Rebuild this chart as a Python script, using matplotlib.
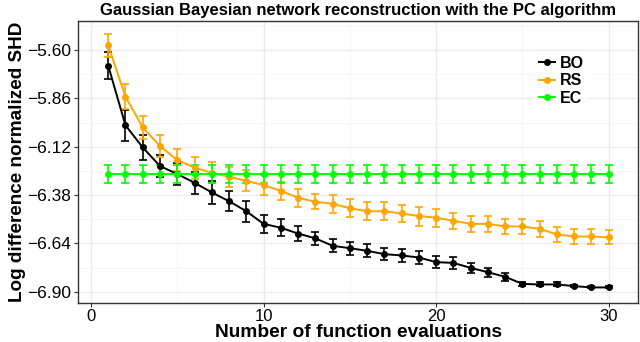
import numpy as np
import matplotlib
matplotlib.use("Agg")
import matplotlib.pyplot as plt
from matplotlib.ticker import FixedLocator, FuncFormatter

plt.rcParams['font.family'] = ['Liberation Sans', 'DejaVu Sans']

evals = list(range(1, 31))

bo_mean = [-5.684, -6.005, -6.124, -6.224, -6.267, -6.314, -6.366, -6.413, -6.467, -6.535,
           -6.556, -6.587, -6.613, -6.653, -6.666, -6.680, -6.698, -6.705, -6.716, -6.741,
           -6.745, -6.772, -6.795, -6.820, -6.858, -6.861, -6.861, -6.870, -6.877, -6.877]
bo_err = [0.074, 0.083, 0.065, 0.058, 0.058, 0.058, 0.061, 0.054, 0.056, 0.050,
          0.045, 0.040, 0.036, 0.036, 0.034, 0.034, 0.034, 0.034, 0.034, 0.032,
          0.032, 0.029, 0.024, 0.022, 0.011, 0.011, 0.011, 0.007, 0.005, 0.005]

rs_mean = [-5.575, -5.851, -6.016, -6.117, -6.192, -6.233, -6.260, -6.282, -6.303, -6.327,
           -6.357, -6.395, -6.416, -6.427, -6.451, -6.467, -6.467, -6.479, -6.493, -6.502,
           -6.519, -6.535, -6.535, -6.549, -6.549, -6.562, -6.592, -6.603, -6.603, -6.608]
rs_err = [0.063, 0.066, 0.063, 0.060, 0.059, 0.058, 0.057, 0.054, 0.056, 0.054,
          0.049, 0.050, 0.041, 0.047, 0.049, 0.049, 0.049, 0.047, 0.051, 0.048,
          0.045, 0.043, 0.043, 0.042, 0.042, 0.045, 0.039, 0.038, 0.038, 0.038]

ec_mean = [-6.269, -6.269, -6.269, -6.269, -6.269, -6.269, -6.269, -6.269, -6.269, -6.269,
           -6.269, -6.269, -6.269, -6.269, -6.269, -6.269, -6.269, -6.269, -6.269, -6.269,
           -6.269, -6.269, -6.269, -6.269, -6.269, -6.269, -6.269, -6.269, -6.269, -6.269]
ec_err = [0.048, 0.048, 0.048, 0.048, 0.048, 0.048, 0.048, 0.048, 0.048, 0.048,
          0.048, 0.048, 0.048, 0.048, 0.048, 0.048, 0.048, 0.048, 0.048, 0.048,
          0.048, 0.048, 0.048, 0.048, 0.048, 0.048, 0.048, 0.048, 0.048, 0.048]

series = [("BO", bo_mean, bo_err, "black"),
          ("RS", rs_mean, rs_err, "#FFA500"),
          ("EC", ec_mean, ec_err, "#00FF00")]

y_ticks = [-5.60, -5.86, -6.12, -6.38, -6.64, -6.90]
x_ticks = [0, 10, 20, 30]

fig = plt.figure(figsize=(6.4, 3.42), dpi=100)
ax = fig.add_axes([0.1219, 0.115, 0.8751, 0.8245])

for name, mean, err, col in series:
    ax.errorbar(evals, mean, yerr=err, fmt='none', ecolor=col,
                elinewidth=1.2, capsize=3.2, capthick=1.2, zorder=3)
    ax.plot(evals, mean, color=col, linewidth=1.4, marker='o',
            markersize=4, label=name, zorder=4)

ax.set_xlim(-0.75, 31.7)
ax.set_ylim(-6.959, -5.442)

ax.yaxis.set_major_locator(FixedLocator(y_ticks))
ax.yaxis.set_major_formatter(FuncFormatter(lambda v, p: f"{v:.2f}".replace('-', '\u2212')))
ax.xaxis.set_major_locator(FixedLocator(x_ticks))
ax.yaxis.set_minor_locator(FixedLocator([-5.47, -5.73, -5.99, -6.25, -6.51, -6.77]))
ax.xaxis.set_minor_locator(FixedLocator([5, 15, 25]))

ax.grid(which='major', color='#EBEBEB', linewidth=1.0, zorder=0)
ax.grid(which='minor', color='#F5F5F5', linewidth=0.6, zorder=0)
ax.set_axisbelow(True)

for spine in ax.spines.values():
    spine.set_color('#333333')
    spine.set_linewidth(1.0)

ax.tick_params(which='major', length=3, width=0.8, color='#333333',
               labelsize=12.5, labelcolor='black', pad=2)
ax.tick_params(axis='x', which='major', labelsize=12, pad=1.5)
ax.tick_params(which='minor', length=0)

ax.set_xlabel("Number of function evaluations", fontsize=13.8,
              fontweight='bold', labelpad=0)
ax.set_ylabel("Log difference normalized SHD", fontsize=13.6,
              fontweight='bold', labelpad=1)
ax.set_title("Gaussian Bayesian network reconstruction with the PC algorithm",
             fontsize=12, fontweight='bold', pad=4)

leg = ax.legend(loc='upper left', bbox_to_anchor=(0.80, 0.92),
                frameon=True, handlelength=1.0, handletextpad=0.3,
                labelspacing=0.15, borderpad=0.3,
                prop={'weight': 'bold', 'size': 11.5})
leg.get_frame().set_facecolor('white')
leg.get_frame().set_edgecolor('none')
leg.get_frame().set_boxstyle('square', pad=0)

fig.savefig("out.png", dpi=100)
